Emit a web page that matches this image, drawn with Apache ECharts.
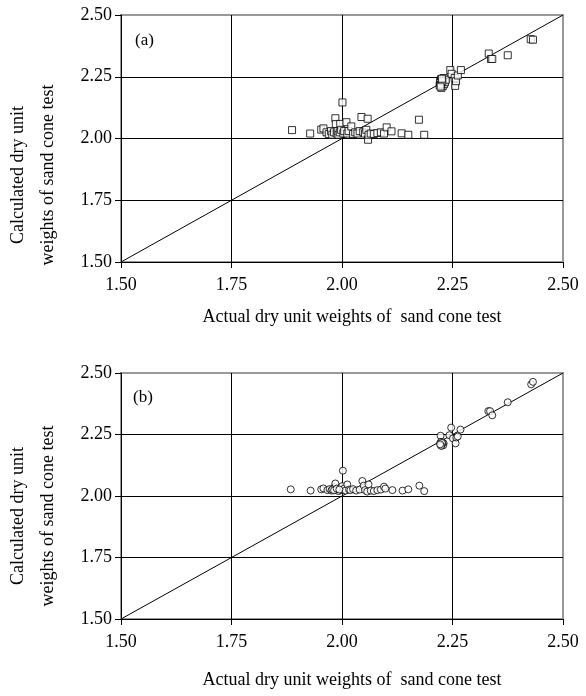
<!DOCTYPE html>
<html lang="en">
<head>
    <meta charset="utf-8">
    <title>Sand cone test</title>
    <script src="https://cdn.jsdelivr.net/npm/echarts@6/dist/echarts.min.js"></script>
    <style>
        body { margin: 0; background: #fff; }
        #main { width: 586px; height: 696px; }
    </style>
</head>
<body>
<div id="main"></div>
<script type="text/javascript">
    // axis ticks
    var tickValues = [1.50, 1.75, 2.00, 2.25, 2.50];

    // panel (a): actual vs calculated (squares)
    var actualA = [1.887, 1.928, 1.953, 1.958, 1.965, 1.970, 1.975, 1.978, 1.982, 1.985, 1.986, 1.988, 1.990, 1.992, 1.995, 1.996, 1.998, 2.001, 2.003, 2.005,
        2.010, 2.012, 2.015, 2.021, 2.025, 2.030, 2.035, 2.040, 2.044, 2.048, 2.052, 2.055, 2.058, 2.059, 2.060, 2.065, 2.072, 2.080, 2.088, 2.095,
        2.101, 2.112, 2.135, 2.150, 2.174, 2.186,
        2.221, 2.222, 2.224, 2.225, 2.226, 2.228, 2.229, 2.230, 2.231, 2.233, 2.235, 2.245, 2.248, 2.255, 2.256, 2.258, 2.262, 2.269,
        2.222, 2.224, 2.227, 2.223, 2.226,
        2.332, 2.337, 2.340, 2.375, 2.427, 2.432];
    var calcA = [2.034, 2.020, 2.036, 2.041, 2.025, 2.018, 2.030, 2.015, 2.025, 2.082, 2.059, 2.020, 2.030, 2.015, 2.025, 2.059, 2.035, 2.146, 2.020, 2.030,
        2.066, 2.020, 2.030, 2.049, 2.018, 2.025, 2.020, 2.030, 2.087, 2.025, 2.020, 2.035, 2.080, 1.995, 2.015, 2.020, 2.018, 2.022, 2.025, 2.020,
        2.045, 2.029, 2.021, 2.015, 2.076, 2.015,
        2.215, 2.230, 2.240, 2.205, 2.222, 2.212, 2.235, 2.245, 2.220, 2.228, 2.238, 2.277, 2.262, 2.245, 2.213, 2.232, 2.255, 2.277,
        2.225, 2.218, 2.232, 2.210, 2.242,
        2.344, 2.322, 2.322, 2.337, 2.402, 2.400];

    // panel (b): actual vs calculated (circles)
    var actualB = [1.884, 1.929, 1.953, 1.958, 1.967, 1.972, 1.976, 1.980, 1.983, 1.985, 1.987, 1.990, 1.992, 1.995, 1.998, 2.000, 2.002, 2.005, 2.008, 2.012,
        2.016, 2.019, 2.025, 2.032, 2.040, 2.046, 2.049, 2.052, 2.057, 2.060, 2.065, 2.072, 2.080, 2.088, 2.095, 2.098, 2.114, 2.137, 2.150, 2.175, 2.186,
        1.978, 1.982, 1.988, 1.994,
        2.223, 2.222, 2.224, 2.225, 2.226, 2.227, 2.228, 2.230, 2.224, 2.229, 2.243, 2.247, 2.251, 2.257, 2.259, 2.262, 2.268,
        2.223, 2.225, 2.227, 2.226, 2.224, 2.222,
        2.331, 2.335, 2.340, 2.375, 2.428, 2.432];
    var calcB = [2.027, 2.022, 2.027, 2.031, 2.024, 2.028, 2.022, 2.030, 2.036, 2.051, 2.024, 2.028, 2.020, 2.032, 2.025, 2.040, 2.103, 2.030, 2.022, 2.047,
        2.026, 2.024, 2.028, 2.022, 2.026, 2.061, 2.042, 2.024, 2.018, 2.047, 2.022, 2.020, 2.024, 2.026, 2.038, 2.030, 2.024, 2.022, 2.027, 2.042, 2.020,
        2.026, 2.023, 2.030, 2.026,
        2.245, 2.215, 2.208, 2.212, 2.205, 2.218, 2.210, 2.214, 2.220, 2.206, 2.247, 2.278, 2.234, 2.214, 2.238, 2.242, 2.270,
        2.212, 2.207, 2.213, 2.216, 2.204, 2.210,
        2.345, 2.345, 2.328, 2.381, 2.454, 2.464];

    // 1:1 reference line
    var lineEnds = [1.50, 2.50];

    function pairs(xs, ys) {
        var out = [];
        for (var i = 0; i < xs.length; i++) {
            out.push([xs[i], ys[i]]);
        }
        return out;
    }

    var serif = 'Liberation Serif';
    var gridA = { left: 121, top: 15, width: 442, height: 247 };
    var gridB = { left: 121, top: 373, width: 442, height: 246 };

    function makeAxis(idx) {
        return {
            type: 'value',
            gridIndex: idx,
            min: tickValues[0],
            max: tickValues[tickValues.length - 1],
            interval: 0.25,
            axisLine: { show: true, lineStyle: { color: '#000', width: 1 } },
            axisTick: { show: true, inside: false, length: 6, lineStyle: { color: '#000' } },
            splitLine: { show: true, showMaxLine: false, lineStyle: { color: '#000', width: 1 } },
            axisLabel: {
                color: '#000',
                fontFamily: serif,
                fontSize: 18,
                formatter: function (v) { return v.toFixed(2); }
            }
        };
    }

    var xA = makeAxis(0); xA.axisLabel.margin = 14;
    var xB = makeAxis(1); xB.axisLabel.margin = 14;
    var yA = makeAxis(0); yA.axisLabel.margin = 9;
    var yB = makeAxis(1); yB.axisLabel.margin = 9;

    var lineData = pairs(lineEnds, lineEnds);

    function textEl(x, y, str, rot) {
        return {
            type: 'text',
            x: x,
            y: y,
            rotation: rot || 0,
            style: {
                text: str,
                fill: '#000',
                font: '18px "Liberation Serif"',
                textAlign: 'center',
                textVerticalAlign: 'middle'
            }
        };
    }

    var myChart = echarts.init(document.getElementById('main'), null, { renderer: 'canvas' });
    myChart.setOption({
        animation: false,
        backgroundColor: '#fff',
        grid: [
            Object.assign({ show: true, borderColor: '#999', borderWidth: 2 }, gridA),
            Object.assign({ show: true, borderColor: '#999', borderWidth: 2 }, gridB)
        ],
        xAxis: [xA, xB],
        yAxis: [yA, yB],
        graphic: [
            textEl(352, 317, 'Actual dry unit weights of  sand cone test'),
            textEl(352, 680, 'Actual dry unit weights of  sand cone test'),
            textEl(18, 175, 'Calculated dry unit', Math.PI / 2),
            textEl(48, 175, 'weights of sand cone test', Math.PI / 2),
            textEl(18, 516, 'Calculated dry unit', Math.PI / 2),
            textEl(48, 516, 'weights of sand cone test', Math.PI / 2),
            { type: 'text', left: 135, top: 32, style: { text: '(a)', fill: '#000', font: '17px "Liberation Serif"' } },
            { type: 'text', left: 133, top: 389, style: { text: '(b)', fill: '#000', font: '17px "Liberation Serif"' } }
        ],
        series: [
            {
                type: 'line', xAxisIndex: 0, yAxisIndex: 0, data: lineData,
                showSymbol: false, lineStyle: { color: '#000', width: 1 }, z: 3
            },
            {
                type: 'line', xAxisIndex: 1, yAxisIndex: 1, data: lineData,
                showSymbol: false, lineStyle: { color: '#000', width: 1 }, z: 3
            },
            {
                type: 'scatter', xAxisIndex: 0, yAxisIndex: 0, data: pairs(actualA, calcA),
                symbol: 'rect', symbolSize: 7,
                itemStyle: { color: '#fff', borderColor: '#000', borderWidth: 1 }, z: 4
            },
            {
                type: 'scatter', xAxisIndex: 1, yAxisIndex: 1, data: pairs(actualB, calcB),
                symbol: 'circle', symbolSize: 7,
                itemStyle: { color: '#fff', borderColor: '#000', borderWidth: 1 }, z: 4
            }
        ]
    });
</script>
</body>
</html>
